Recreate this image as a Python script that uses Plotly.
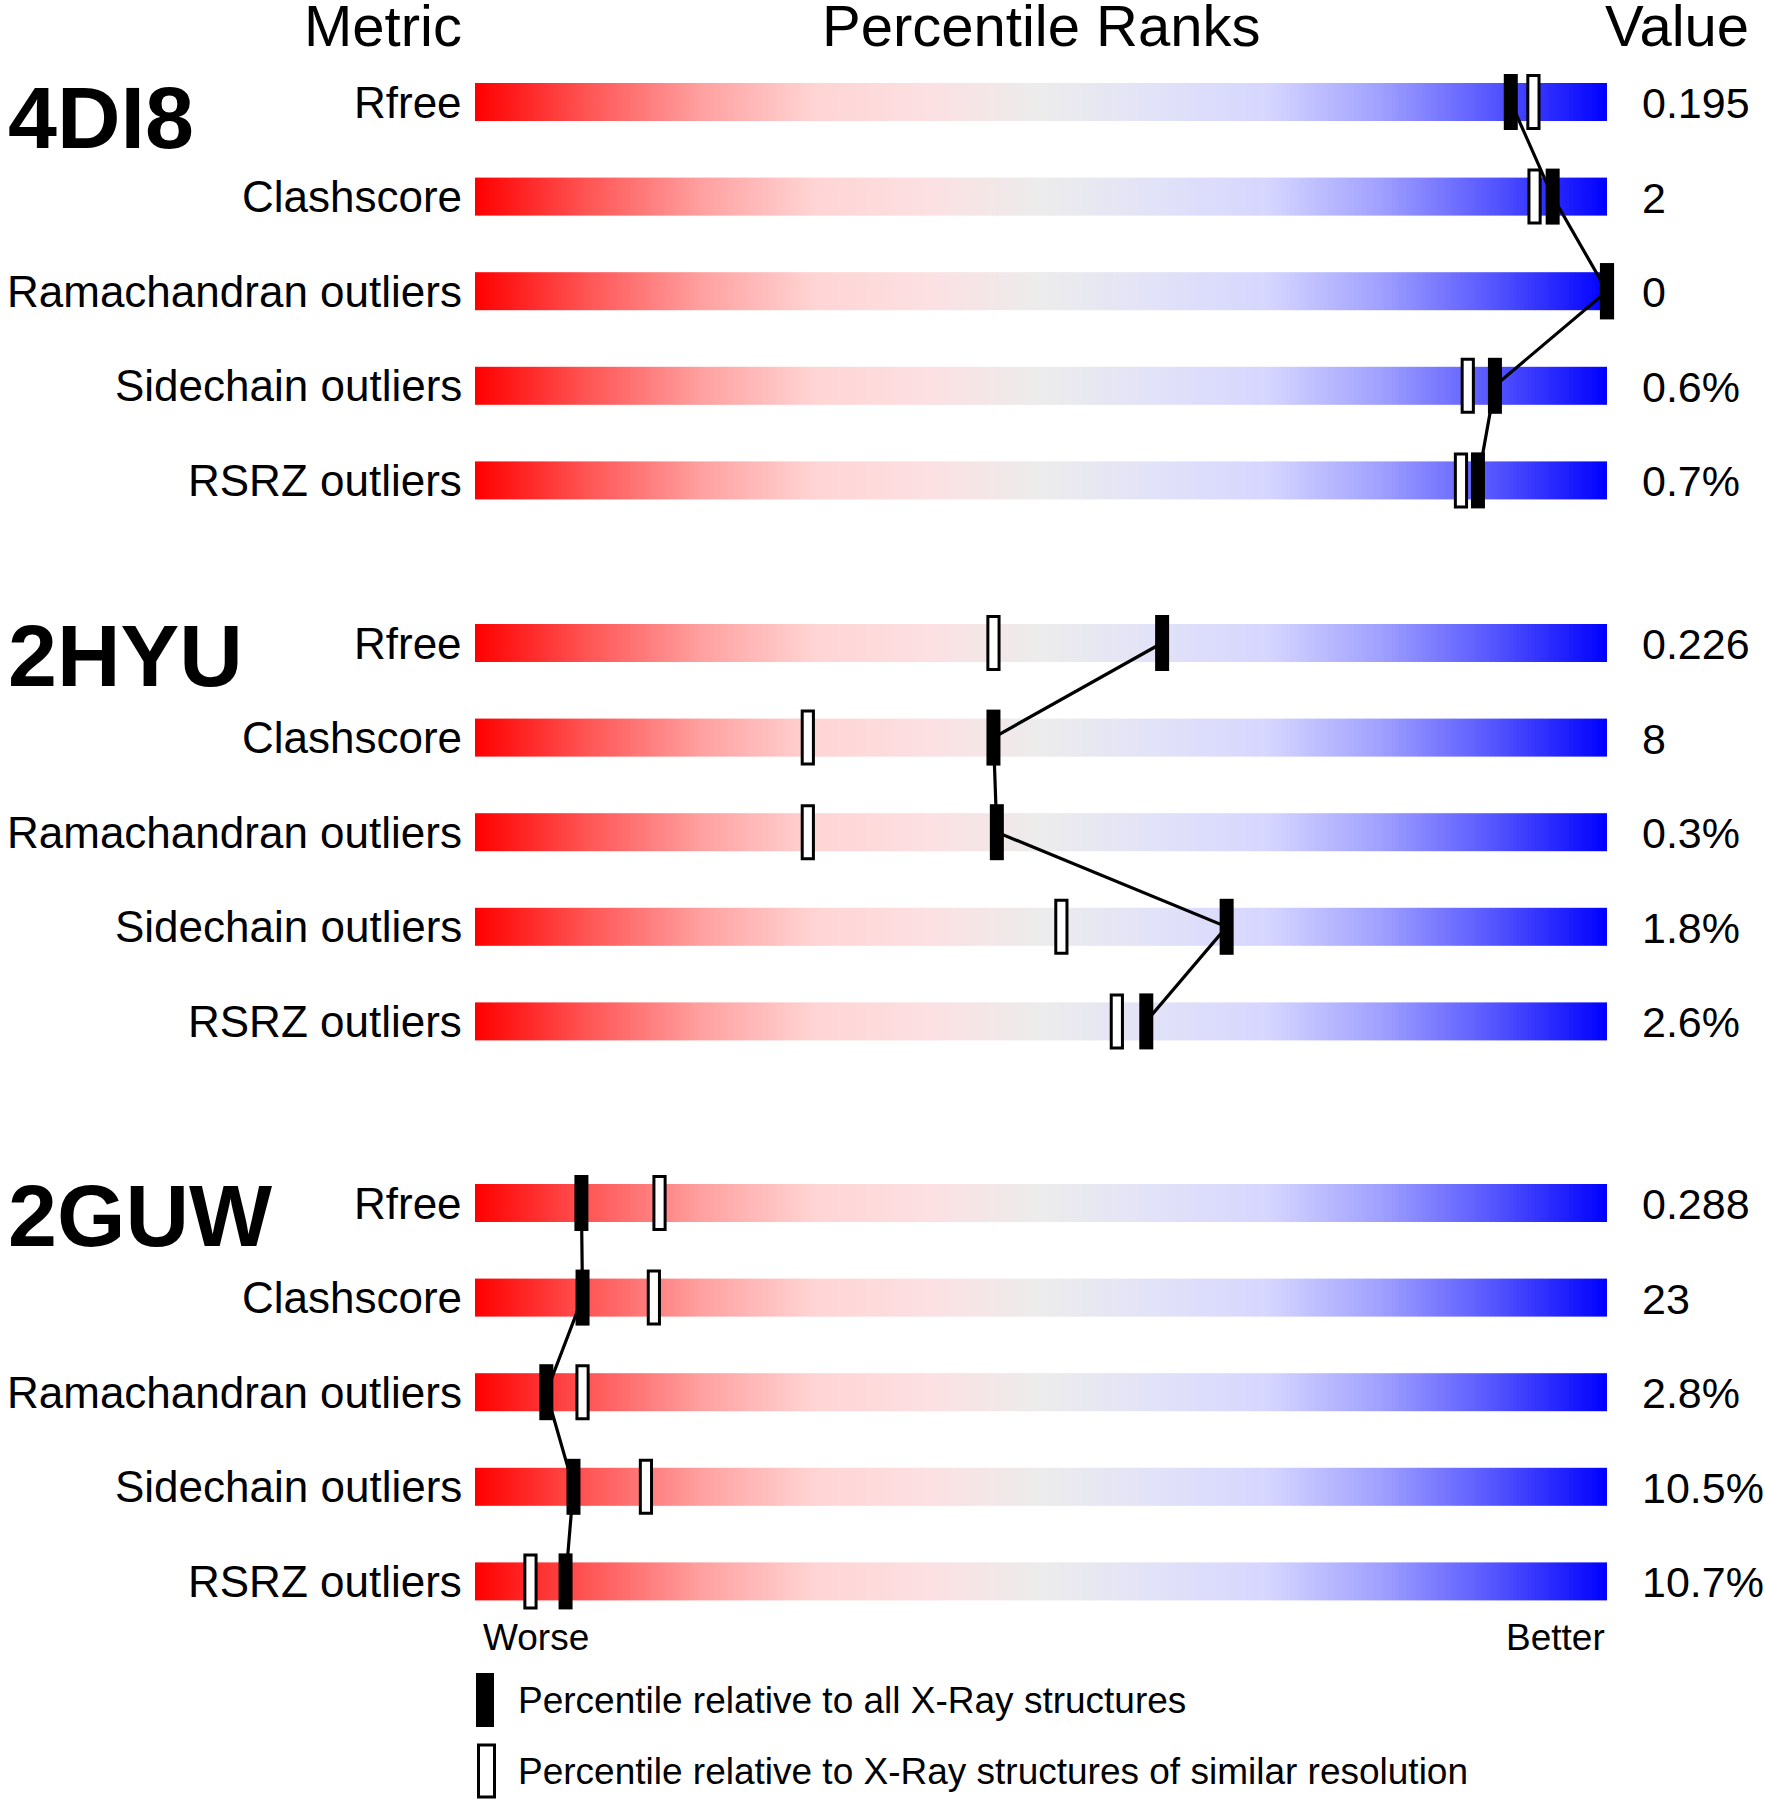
import numpy as np
import plotly.graph_objects as go

# ---------------- data ----------------
pdb_ids = ["4DI8", "2HYU", "2GUW"]
metrics = ["Rfree", "Clashscore", "Ramachandran outliers", "Sidechain outliers", "RSRZ outliers"]

# percentile relative to all X-ray structures (filled markers)
pct_all_4di8 = [91.5, 95.2, 100.0, 90.1, 88.6]
pct_all_2hyu = [60.7, 45.8, 46.1, 66.4, 59.3]
pct_all_2guw = [9.4, 9.5, 6.3, 8.7, 8.0]

# percentile relative to structures of similar resolution (open markers)
pct_sim_4di8 = [93.5, 93.6, 100.0, 87.7, 87.1]
pct_sim_2hyu = [45.8, 29.4, 29.4, 51.8, 56.7]
pct_sim_2guw = [16.3, 15.8, 9.5, 15.1, 4.9]

values_4di8 = ["0.195", "2", "0", "0.6%", "0.7%"]
values_2hyu = ["0.226", "8", "0.3%", "1.8%", "2.6%"]
values_2guw = ["0.288", "23", "2.8%", "10.5%", "10.7%"]

pct_all = [pct_all_4di8, pct_all_2hyu, pct_all_2guw]
pct_sim = [pct_sim_4di8, pct_sim_2hyu, pct_sim_2guw]
values = [values_4di8, values_2hyu, values_2guw]

# ---------------- layout parameters ----------------
W, H = 1765, 1800
BAR_L, BAR_R = 475, 1607            # pixel extent of the 0..100 scale
PX_PER_PCT = (BAR_R - BAR_L) / 100.0
group_start = [102, 643, 1203]      # y (pixels from top) of first row in each group
row_step = 94.6
bar_half = 19
FONT = "Liberation Sans, Arial, Helvetica, sans-serif"

colorscale = [
    [0.0, "rgb(255,0,0)"],
    [0.1, "rgb(255,85,85)"],
    [0.2, "rgb(255,160,160)"],
    [0.3, "rgb(255,212,212)"],
    [0.4, "rgb(252,224,226)"],
    [0.5, "rgb(236,236,236)"],
    [0.6, "rgb(226,226,248)"],
    [0.7, "rgb(214,214,255)"],
    [0.8, "rgb(160,160,255)"],
    [0.9, "rgb(85,85,255)"],
    [1.0, "rgb(0,0,255)"],
]

N = 300
x_edges = np.linspace(0, 100, N + 1)
z_row = [list((x_edges[:-1] + x_edges[1:]) / 2)]

fig = go.Figure()
shapes = []
annotations = []

def row_y(g, i):
    return group_start[g] + i * row_step

for g, pid in enumerate(pdb_ids):
    ys = [row_y(g, i) for i in range(len(metrics))]
    # gradient bars
    for i, m in enumerate(metrics):
        c = ys[i]
        fig.add_trace(go.Heatmap(
            z=z_row, x=x_edges, y=[c - bar_half, c + bar_half],
            colorscale=colorscale, zmin=0, zmax=100, showscale=False,
            hoverinfo="skip"))
        # metric label
        annotations.append(dict(x=0, y=c, xref="x", yref="y", text=m,
                                xanchor="right", yanchor="middle", xshift=-11,
                                showarrow=False, font=dict(size=44, family=FONT, color="black")))
        # value label
        annotations.append(dict(x=100, y=c + 1, xref="x", yref="y", text=values[g][i],
                                xanchor="left", yanchor="middle", xshift=33,
                                showarrow=False, font=dict(size=43, family=FONT, color="black")))
    # connecting line through the filled markers
    fig.add_trace(go.Scatter(x=pct_all[g], y=ys, mode="lines",
                             line=dict(color="black", width=3.2),
                             hoverinfo="skip", showlegend=False))
    # open markers first, then filled
    for i in range(len(metrics)):
        shapes.append(dict(type="rect", xref="x", yref="y",
                           xsizemode="pixel", ysizemode="pixel",
                           xanchor=pct_sim[g][i], yanchor=ys[i],
                           x0=-5.6, x1=5.6, y0=-26.5, y1=26.5,
                           line=dict(color="black", width=3), fillcolor="white"))
    for i in range(len(metrics)):
        shapes.append(dict(type="rect", xref="x", yref="y",
                           xsizemode="pixel", ysizemode="pixel",
                           xanchor=pct_all[g][i], yanchor=ys[i],
                           x0=-7, x1=7, y0=-28, y1=28,
                           line=dict(width=0), fillcolor="black"))
    # PDB id
    annotations.append(dict(x=6 / W, y=ys[0] + (15 if g == 0 else 12), xref="paper", yref="y",
                            text="<b>%s</b>" % pid, xanchor="left", yanchor="middle",
                            showarrow=False, font=dict(size=88, family=FONT, color="black")))

# headers
hdr_y = 25
annotations.append(dict(x=0, y=hdr_y, xref="x", yref="y", text="Metric", xanchor="right",
                        yanchor="middle", xshift=-11, showarrow=False,
                        font=dict(size=58, family=FONT, color="black")))
annotations.append(dict(x=50, y=hdr_y, xref="x", yref="y", text="Percentile Ranks", xanchor="center",
                        yanchor="middle", showarrow=False,
                        font=dict(size=58, family=FONT, color="black")))
annotations.append(dict(x=100, y=hdr_y, xref="x", yref="y", text="Value", xanchor="left",
                        yanchor="middle", xshift=-4, showarrow=False,
                        font=dict(size=58, family=FONT, color="black")))

# worse / better
annotations.append(dict(x=0, y=1637, xref="x", yref="y", text="Worse", xanchor="left",
                        yanchor="middle", xshift=6, showarrow=False,
                        font=dict(size=37, family=FONT, color="black")))
annotations.append(dict(x=100, y=1637, xref="x", yref="y", text="Better", xanchor="right",
                        yanchor="middle", showarrow=False,
                        font=dict(size=37, family=FONT, color="black")))

# legend
legend_items = ["Percentile relative to all X-Ray structures",
                "Percentile relative to X-Ray structures of similar resolution"]
legend_y = [1700, 1771]
shapes.append(dict(type="rect", xref="x", yref="y", xsizemode="pixel", ysizemode="pixel",
                   xanchor=0, yanchor=legend_y[0], x0=1, x1=19, y0=-27, y1=27,
                   line=dict(width=0), fillcolor="black"))
shapes.append(dict(type="rect", xref="x", yref="y", xsizemode="pixel", ysizemode="pixel",
                   xanchor=0, yanchor=legend_y[1], x0=3.5, x1=19.5, y0=-26, y1=26,
                   line=dict(color="black", width=3), fillcolor="white"))
for t, yy in zip(legend_items, legend_y):
    annotations.append(dict(x=0, y=yy, xref="x", yref="y", text=t, xanchor="left",
                            yanchor="middle", xshift=41, showarrow=False,
                            font=dict(size=37, family=FONT, color="black")))

fig.update_layout(
    width=W, height=H,
    margin=dict(l=0, r=0, t=0, b=0),
    paper_bgcolor="white", plot_bgcolor="white",
    showlegend=False,
    xaxis=dict(range=[-BAR_L / PX_PER_PCT, 100 + (W - BAR_R) / PX_PER_PCT],
               visible=False, fixedrange=True),
    yaxis=dict(range=[H, 0], visible=False, fixedrange=True),
    shapes=shapes,
    annotations=annotations,
)

fig.write_html("out.html", config={"displayModeBar": False},
               post_script="document.body.style.margin='0';document.body.style.overflow='hidden';")
